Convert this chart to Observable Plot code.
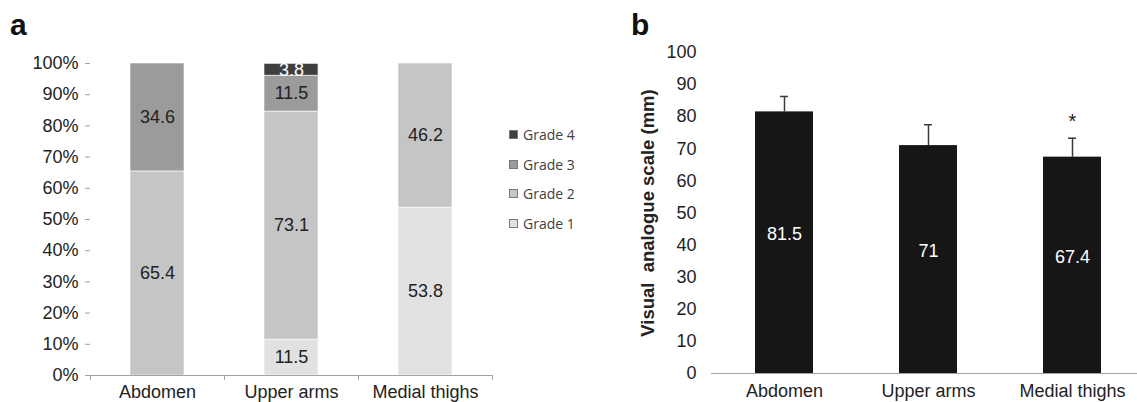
<!DOCTYPE html>
<html>
<head>
<meta charset="utf-8">
<script src="https://cdn.jsdelivr.net/npm/d3@7"></script>
<script src="https://cdn.jsdelivr.net/npm/@observablehq/plot@0.6"></script>
<style>
  body { margin: 0; background: #fff; }
  #root { position: relative; width: 1137px; height: 402px; overflow: hidden; font-family: "Liberation Sans", Arial, sans-serif; }
  .panel { position: absolute; top: 0; }
  .tag { position: absolute; top: 10px; font-weight: bold; font-size: 30px; line-height: 1; color: #111; }
  #legend { position: absolute; left: 509px; top: 120px; font-family: "Open Sans", sans-serif; font-size: 14px; color: #404040; }
  #legend .item { display: flex; align-items: center; height: 29.5px; }
  #legend .sw { width: 9px; height: 9px; box-sizing: border-box; border: 1px solid #7a7a7a; margin-right: 5px; }
  svg text { white-space: pre; }
</style>
</head>
<body>
<div id="root"></div>
<script>
// ---- data ----
const sites = ["Abdomen", "Upper arms", "Medial thighs"];
const grades = ["Grade 1", "Grade 2", "Grade 3", "Grade 4"];
const grade1Pct = [0, 11.5, 53.8];
const grade2Pct = [65.4, 73.1, 46.2];
const grade3Pct = [34.6, 11.5, 0];
const grade4Pct = [0, 3.8, 0];
const gradeColors = ["#e1e1e1", "#c4c5c4", "#9a9b9a", "#3f3f3f"];
const pctTicks = [0, 10, 20, 30, 40, 50, 60, 70, 80, 90, 100];

const vasMean = [81.5, 71, 67.4];
const vasError = [4.8, 6.5, 5.9];
const vasSignif = ["", "", "*"];
const vasTicks = [0, 10, 20, 30, 40, 50, 60, 70, 80, 90, 100];
const vasLabel = "Visual  analogue scale (mm)";

// ---- build tables ----
const gradeSeries = [grade1Pct, grade2Pct, grade3Pct, grade4Pct];
const rowsA = [];
grades.forEach((g, gi) => sites.forEach((s, si) => rowsA.push({site: s, grade: g, value: gradeSeries[gi][si]})));
const rowsB = sites.map((s, i) => ({site: s, mean: vasMean[i], err: vasError[i], sig: vasSignif[i]}));

const font = '"Liberation Sans", Arial, sans-serif';
const axisColor = "#a3a3a3";
const root = document.getElementById("root");

// ---- panel a ----
const aLeft = 90, aRight = 492;
const stepA = (aRight - aLeft) / sites.length;
const plotA = Plot.plot({
  width: 500, height: 402,
  marginLeft: aLeft, marginRight: 500 - aRight, marginTop: 63, marginBottom: 27,
  style: {fontFamily: font, fontSize: "18px", color: "#222", background: "transparent", overflow: "visible"},
  x: {domain: sites, paddingInner: 0.6, paddingOuter: 0.3, label: null},
  y: {domain: [0, 100], label: null},
  color: {domain: grades, range: gradeColors},
  marks: [
    Plot.barY(rowsA, {x: "site", y: "value", fill: "grade", stroke: "white", strokeWidth: 0.6}),
    Plot.text(rowsA, Plot.stackY({x: "site", y: "value", z: "grade",
      text: d => (d.value > 0 && d.grade !== "Grade 4") ? String(d.value) : null,
      fill: "#222", fontSize: 18})),
    Plot.text(rowsA, Plot.stackY({x: "site", y: "value", z: "grade",
      text: d => (d.value > 0 && d.grade === "Grade 4") ? String(d.value) : null,
      fill: "white", fontSize: 18})),
    Plot.axisY(pctTicks, {tickFormat: d => d + "%", tickSize: 5, tickPadding: 7, stroke: axisColor, fill: "#222", fontSize: 18, line: true}),
    Plot.axisX({tickSize: 0, tickPadding: 10, fontSize: 18, fill: "#222"}),
    Plot.ruleY([0], {stroke: axisColor}),
    Plot.ruleX(sites, {x: d => d, dx: -stepA / 2, y1: 0, y2: -1.6, stroke: axisColor}),
    Plot.ruleX([sites[sites.length - 1]], {x: d => d, dx: stepA / 2, y1: 0, y2: -1.6, stroke: axisColor})
  ]
});
plotA.classList.add("panel");
plotA.style.left = "0px";
root.appendChild(plotA);

// ---- legend ----
const legend = document.createElement("div");
legend.id = "legend";
[...grades].reverse().forEach(g => {
  const item = document.createElement("div");
  item.className = "item";
  const sw = document.createElement("div");
  sw.className = "sw";
  sw.style.background = gradeColors[grades.indexOf(g)];
  const lab = document.createElement("span");
  lab.textContent = g;
  item.appendChild(sw); item.appendChild(lab);
  legend.appendChild(item);
});
root.appendChild(legend);

// ---- panel b ----
const bLeft = 151, bStep = 144.5;
const plotB = Plot.plot({
  width: 577, height: 402,
  marginLeft: bLeft, marginRight: 0, marginTop: 52, marginBottom: 29,
  style: {fontFamily: font, fontSize: "18px", color: "#222", background: "transparent"},
  x: {domain: sites, range: [bLeft, bLeft + bStep * sites.length], paddingInner: 0.6, paddingOuter: 0.3, label: null},
  y: {domain: [0, 100], label: null},
  marks: [
    Plot.ruleX(rowsB, {x: "site", y1: "mean", y2: d => d.mean + d.err, stroke: "#3a3a3a", strokeWidth: 1.5}),
    Plot.tickY(rowsB, {x: "site", y: d => d.mean + d.err, stroke: "#3a3a3a", strokeWidth: 1.5, insetLeft: 25, insetRight: 25}),
    Plot.barY(rowsB, {x: "site", y: "mean", fill: "#161616"}),
    Plot.text(rowsB, {x: "site", y: d => d.mean / 2, text: d => String(d.mean), fill: "white", fontSize: 18, dy: -8}),
    Plot.text(rowsB, {x: "site", y: d => d.mean + d.err, text: "sig", dy: -17, fontSize: 20, fill: "#222"}),
    Plot.axisY(vasTicks, {tickSize: 0, tickPadding: 15, fontSize: 18, fill: "#222", stroke: axisColor, line: true}),
    Plot.axisX({tickSize: 0, tickPadding: 11, fontSize: 18, fill: "#222"}),
    Plot.ruleY([0], {stroke: axisColor}),
    Plot.text([vasLabel], {text: d => d, frameAnchor: "left", textAnchor: "middle", lineAnchor: "middle", rotate: -90, dx: -63, fontWeight: "bold", fontSize: 18.5, fill: "#222"})
  ]
});
plotB.classList.add("panel");
plotB.style.left = "560px";
root.appendChild(plotB);

// ---- panel tags ----
[["a", 10], ["b", 631]].forEach(([t, x]) => {
  const d = document.createElement("div");
  d.className = "tag";
  d.textContent = t;
  d.style.left = x + "px";
  root.appendChild(d);
});
</script>
</body>
</html>
